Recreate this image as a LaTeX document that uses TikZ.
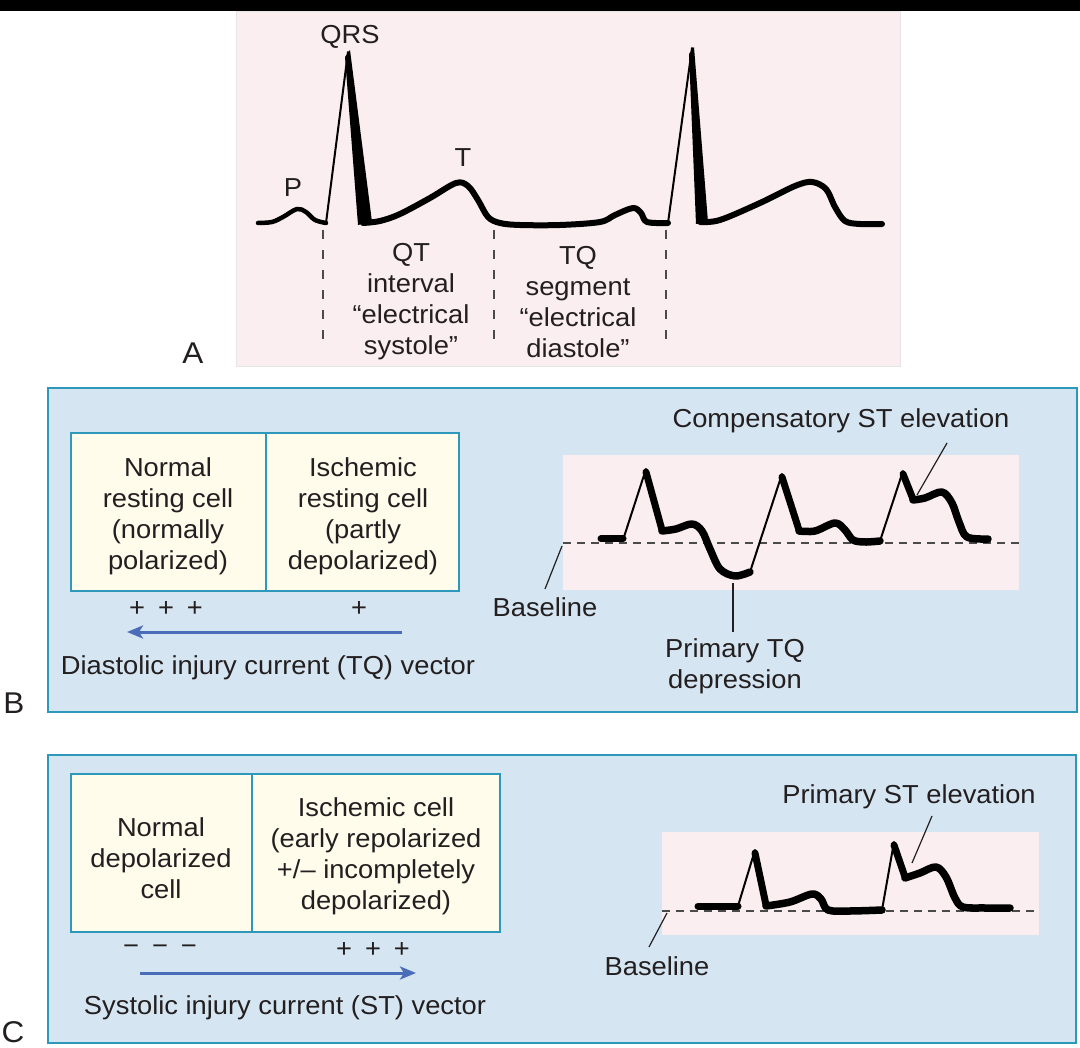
\documentclass[tikz,border=0pt]{standalone}
\usepackage{fontspec}
\setmainfont{Liberation Sans}[FakeStretch=1.05]
\usetikzlibrary{arrows.meta}
\definecolor{panelblue}{HTML}{D5E5F1}
\definecolor{tealline}{HTML}{2E98BA}
\definecolor{cream}{HTML}{FFFCEC}
\definecolor{pinkbg}{HTML}{FAEEF0}
\definecolor{txt}{HTML}{231F20}
\definecolor{arrowblue}{HTML}{4A6DB9}
\definecolor{dashgray}{HTML}{4A4A4A}
\begin{document}
\begin{tikzpicture}[x=1pt,y=-1pt,
  lbl/.style={font=\fontsize{26}{31}\selectfont, text=txt, align=center, inner sep=0pt},
  letter/.style={font=\fontsize{30}{36}\selectfont, text=txt, inner sep=0pt},
  panel/.style={fill=panelblue, draw=tealline, line width=2pt},
  cellbox/.style={fill=cream, draw=tealline, line width=1.8pt},
  ecgthick/.style={draw=black, line width=6pt, line cap=round, line join=round},
  ecgthin/.style={draw=black, line width=2pt, line cap=round},
  pointer/.style={draw=txt, line width=1.2pt},
  basedash/.style={draw=dashgray, line width=1.3pt, dash pattern=on 8pt off 6pt},
  vdash/.style={draw=dashgray, line width=1.2pt, dash pattern=on 9pt off 11pt},
  vector/.style={draw=arrowblue, line width=3pt, -{Stealth[length=16pt,width=13pt,inset=4pt]}}
]
\useasboundingbox (0,0) rectangle (1080,1048);
\fill[white] (0,0) rectangle (1080,1048);
% top black bar
\fill[black] (0,0) rectangle (1080,11);

% ================= Panel A =================
\draw[fill=pinkbg, draw=black!10, line width=0.8pt] (236,11) rectangle (900,366);
\node[lbl] (nQRS) at (350,37) {QRS};
\node[lbl] (nP) at (293,188) {P};
\node[lbl] (nT) at (463,158) {T};
\node[letter] (nA) at (193,353) {A};
% ECG trace A
\draw[ecgthick, line width=4.5pt] plot[smooth, tension=0.55] coordinates {(258,223) (272,222) (283,217) (297,209) (306,212) (315,220) (326,223)};
\draw[ecgthin] (326,223) -- (348,52);
\fill[black] (345,57) -- (350,50) -- (372,222) -- (358,225) -- cycle;
\draw[ecgthick] plot[smooth, tension=0.55] coordinates {(363,223) (380,221) (400,214) (430,198) (456,183) (468,186) (478,200) (488,217) (500,223) (520,225) (560,225) (600,222) (615,215) (633,208) (641,213) (647,222) (668,223)};
\draw[ecgthin] (668,223) -- (692,48);
\fill[black] (689,54) -- (694,47) -- (708,222) -- (696,224) -- cycle;
\draw[ecgthick] plot[smooth, tension=0.55] coordinates {(700,222) (720,220) (760,203) (795,186) (812,182) (826,189) (835,207) (845,221) (860,224) (882,224)};
% dashed separators
\coordinate (dA1t) at (323,230); \coordinate (dA1b) at (323,345);
\coordinate (dA2t) at (494,230); \coordinate (dA2b) at (494,345);
\coordinate (dA3t) at (666,230); \coordinate (dA3b) at (666,345);
\draw[vdash] (dA1t) -- (dA1b);
\draw[vdash] (dA2t) -- (dA2b);
\draw[vdash] (dA3t) -- (dA3b);
\node[lbl] (nQT) at (411,302) {QT\\interval\\“electrical\\systole”};
\node[lbl] (nTQ) at (578,302) {TQ\\segment\\“electrical\\diastole”};

% ================= Panel B =================
\draw[panel] (48,388) rectangle (1077,712);
\node[letter] (nB) at (14,703) {B};
\draw[cellbox] (71,433) rectangle (459,591);
\coordinate (divBt) at (266,433); \coordinate (divBb) at (266,591);
\draw[draw=tealline, line width=1.8pt] (divBt) -- (divBb);
\node[lbl] (cellBL) at (168,516) {Normal\\resting cell\\(normally\\polarized)};
\node[lbl] (cellBR) at (363,516) {Ischemic\\resting cell\\(partly\\depolarized)};
\node[lbl] (plusBL) at (166,609) {+\hspace{13pt}+\hspace{13pt}+};
\node[lbl] (plusBR) at (359,609) {+};
\coordinate (vBs) at (402,632); \coordinate (vBe) at (127,632);
\draw[vector] (vBs) -- (vBe);
\node[lbl] (vecB) at (268,668) {Diastolic injury current (TQ) vector};
% ECG B
\fill[pinkbg] (563,455) rectangle (1019,590);
\coordinate (blBl) at (563,543); \coordinate (blBr) at (1019,543);
\draw[basedash] (blBl) -- (blBr);
\draw[ecgthick, line width=7pt] (601,539) -- (623,539);
\draw[ecgthin] (623,540) -- (646,469);
\draw[ecgthick, line width=7pt] (646,472) -- (662,530);
\draw[ecgthick, line width=7.5pt] plot[smooth, tension=0.55] coordinates {(662,531) (676,529) (692,524) (702,531) (710,549) (720,569) (735,576) (750,572)};
\draw[ecgthin] (750,572) -- (782,474);
\draw[ecgthick, line width=7pt] (782,477) -- (799,530);
\draw[ecgthick, line width=7.5pt] plot[smooth, tension=0.55] coordinates {(799,531) (815,531) (835,523) (845,530) (853,540) (865,542) (880,541)};
\draw[ecgthin] (880,541) -- (903,471);
\draw[ecgthick, line width=7pt] (903,474) -- (913,499);
\draw[ecgthick, line width=7.5pt] plot[smooth, tension=0.55] coordinates {(913,500) (925,498) (942,492) (952,503) (959,522) (967,537) (988,539)};
% labels B
\node[lbl] (compST) at (841,421) {Compensatory ST elevation};
\coordinate (compS) at (947,443); \coordinate (compE) at (917,495);
\draw[pointer] (compS) -- (compE);
\node[lbl] (baseB) at (545,607) {Baseline};
\coordinate (bpBs) at (562,546); \coordinate (bpBe) at (545,589);
\draw[pointer] (bpBs) -- (bpBe);
\node[lbl] (primTQ) at (735,666) {Primary TQ\\depression};
\coordinate (ptqS) at (733,583); \coordinate (ptqE) at (733,632);
\draw[pointer] (ptqS) -- (ptqE);

% ================= Panel C =================
\draw[panel] (48,755) rectangle (1076,1043);
\node[letter] (nC) at (13,1032) {C};
\draw[cellbox] (71,774) rectangle (500,932);
\coordinate (divCt) at (252,774); \coordinate (divCb) at (252,932);
\draw[draw=tealline, line width=1.8pt] (divCt) -- (divCb);
\node[lbl] (cellCL) at (161,858) {Normal\\depolarized\\cell};
\node[lbl] (cellCR) at (376,856) {Ischemic cell\\(early repolarized\\+/– incompletely\\depolarized)};
\node[lbl] (minusCL) at (160,950) {−\hspace{13pt}−\hspace{13pt}−};
\node[lbl] (plusCR) at (373,950) {+\hspace{13pt}+\hspace{13pt}+};
\coordinate (vCs) at (140,973); \coordinate (vCe) at (416,973);
\draw[vector] (vCs) -- (vCe);
\node[lbl] (vecC) at (285,1008) {Systolic injury current (ST) vector};
% ECG C
\fill[pinkbg] (662,832) rectangle (1039,935);
\coordinate (blCl) at (662,911); \coordinate (blCr) at (1039,911);
\draw[basedash] (blCl) -- (blCr);
\draw[ecgthick, line width=7pt] (698,906) -- (738,906);
\draw[ecgthin] (738,906) -- (755,850);
\draw[ecgthick, line width=7pt] (755,853) -- (766,905);
\draw[ecgthick, line width=7.5pt] plot[smooth, tension=0.55] coordinates {(766,906) (790,902) (812,894) (821,899) (828,910) (850,911) (882,910)};
\draw[ecgthin] (882,910) -- (894,842);
\draw[ecgthick, line width=7pt] (894,845) -- (905,877);
\draw[ecgthick, line width=7.5pt] plot[smooth, tension=0.55] coordinates {(905,878) (920,873) (936,867) (946,877) (955,898) (963,907) (985,908) (1010,908)};
% labels C
\node[lbl] (primST) at (909,797) {Primary ST elevation};
\coordinate (pstS) at (932,816); \coordinate (pstE) at (912,863);
\draw[pointer] (pstS) -- (pstE);
\node[lbl] (baseC) at (657,966) {Baseline};
\coordinate (bpCs) at (667,913); \coordinate (bpCe) at (649,947);
\draw[pointer] (bpCs) -- (bpCe);
\end{tikzpicture}
\end{document}
